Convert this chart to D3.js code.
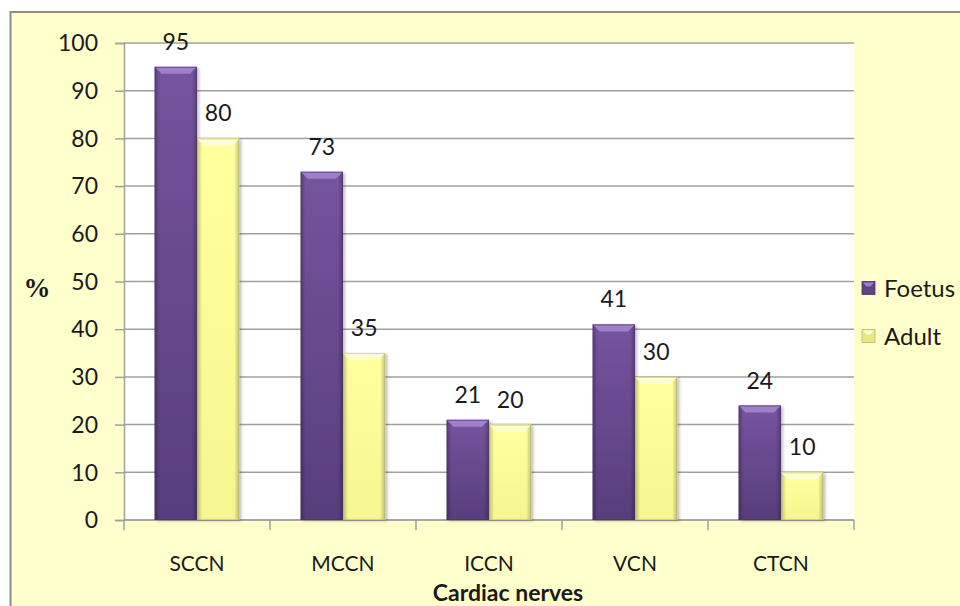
<!DOCTYPE html>
<html>
<head>
<meta charset="utf-8">
<script src="https://cdn.jsdelivr.net/npm/d3@7"></script>
<style>
  html, body { margin: 0; padding: 0; background: #ffffff; }
  svg { display: block; }
  text { font-family: Lato, "Open Sans", sans-serif; fill: #1a1a1a; }
</style>
</head>
<body>
<svg id="chart" width="960" height="606"></svg>
<script>
// Chart data
const categories = ["SCCN", "MCCN", "ICCN", "VCN", "CTCN"];
const seriesNames = ["Foetus", "Adult"];
const foetus = [95, 73, 21, 41, 24];
const adult = [80, 35, 20, 30, 10];
const yTicks = [0, 10, 20, 30, 40, 50, 60, 70, 80, 90, 100];
const xTitle = "Cardiac nerves";
const yTitle = "%";

const W = 960, H = 606;
const plot = { left: 124, right: 854, top: 43, bottom: 520 };

const svg = d3.select("#chart");
const defs = svg.append("defs");

// Gradients for bevelled bars
function vGrad(id, stops) {
  const g = defs.append("linearGradient").attr("id", id)
    .attr("x1", 0).attr("y1", 0).attr("x2", 0).attr("y2", 1);
  stops.forEach(s => g.append("stop").attr("offset", s[0]).attr("stop-color", s[1]));
}
function hGrad(id, stops) {
  const g = defs.append("linearGradient").attr("id", id)
    .attr("x1", 0).attr("y1", 0).attr("x2", 1).attr("y2", 0);
  stops.forEach(s => g.append("stop").attr("offset", s[0]).attr("stop-color", s[1]).attr("stop-opacity", s[2] == null ? 1 : s[2]));
}
vGrad("purpleBody", [[0, "#77539f"], [1, "#573e7c"]]);
vGrad("yellowBody", [[0, "#ffff9e"], [1, "#f6f690"]]);
hGrad("edgeShade", [[0, "#000", 0.25], [0.12, "#000", 0], [0.88, "#000", 0], [1, "#000", 0.25]]);
defs.append("filter").attr("id", "shadow").attr("x", "-20%").attr("y", "-10%").attr("width", "150%").attr("height", "120%")
  .append("feDropShadow").attr("dx", 2).attr("dy", 1).attr("stdDeviation", 1.5)
  .attr("flood-color", "#000").attr("flood-opacity", 0.25);

const colors = {
  Foetus: { body: "url(#purpleBody)", top: "#9e7fcb", edge: "#4a3468", swatch: "#5e4388" },
  Adult: { body: "url(#yellowBody)", top: "#ffffd4", edge: "#b9b96a", swatch: "#e8e880" }
};

// Chart area background and frame
svg.append("rect").attr("x", 10.5).attr("y", 12).attr("width", W).attr("height", H)
  .attr("fill", "#ffffcc").attr("stroke", "#8c8c8c").attr("stroke-width", 2);

// Plot area
svg.append("rect").attr("x", plot.left).attr("y", plot.top)
  .attr("width", plot.right - plot.left).attr("height", plot.bottom - plot.top)
  .attr("fill", "#ffffff");

const x0 = d3.scaleBand().domain(categories).range([plot.left, plot.right]).paddingInner(0).paddingOuter(0);
const groupPad = 0.21;
const x1 = d3.scaleBand().domain(seriesNames)
  .range([x0.bandwidth() * groupPad, x0.bandwidth() * (1 - groupPad)]);
const y = d3.scaleLinear().domain([0, 100]).range([plot.bottom, plot.top]);

// Gridlines with left tick marks
const yAxis = d3.axisLeft(y).tickValues(yTicks).tickSize(9).tickFormat("");
const yg = svg.append("g").attr("transform", `translate(${plot.left},0)`).call(yAxis);
yg.select(".domain").attr("stroke", "#a0a0a0").attr("stroke-width", 1.5);
yg.selectAll(".tick line").attr("stroke", "#a0a0a0").attr("stroke-width", 1.5);

svg.append("g").selectAll("line").data(yTicks).join("line")
  .attr("x1", plot.left).attr("x2", plot.right)
  .attr("y1", d => y(d)).attr("y2", d => y(d))
  .attr("stroke", "#a0a0a0").attr("stroke-width", 1.5);

// Y tick labels
svg.append("g").selectAll("text").data(yTicks).join("text")
  .attr("x", 98).attr("y", d => y(d)).attr("dy", "0.36em")
  .attr("text-anchor", "end").attr("font-size", 23).text(d => d);

// X axis with boundary ticks
const bounds = categories.map(c => x0(c)).concat([plot.right]);
svg.append("line").attr("x1", plot.left).attr("x2", plot.right)
  .attr("y1", plot.bottom).attr("y2", plot.bottom)
  .attr("stroke", "#a0a0a0").attr("stroke-width", 1.5);
svg.append("g").selectAll("line").data(bounds).join("line")
  .attr("x1", d => d).attr("x2", d => d)
  .attr("y1", plot.bottom).attr("y2", plot.bottom + 10)
  .attr("stroke", "#a0a0a0").attr("stroke-width", 1.5);

svg.append("g").selectAll("text").data(categories).join("text")
  .attr("x", d => x0(d) + x0.bandwidth() / 2).attr("y", 571)
  .attr("text-anchor", "middle").attr("font-size", 21).text(d => d);

// Bars
const rows = categories.map((c, i) => ({ cat: c, values: [
  { s: "Foetus", v: foetus[i] }, { s: "Adult", v: adult[i] }
]}));

const groups = svg.append("g").selectAll("g").data(rows).join("g")
  .attr("transform", d => `translate(${x0(d.cat)},0)`);

const bars = groups.selectAll("g.bar").data(d => d.values).join("g").attr("class", "bar");

bars.each(function(d) {
  const g = d3.select(this);
  const bx = x1(d.s), bw = x1.bandwidth();
  const top = y(d.v), h = y(0) - top;
  const c = colors[d.s];
  const b = Math.min(7, h / 2);
  g.append("rect").attr("x", bx).attr("y", top).attr("width", bw).attr("height", h)
    .attr("fill", c.body).attr("filter", "url(#shadow)");
  g.append("rect").attr("x", bx).attr("y", top).attr("width", bw).attr("height", h)
    .attr("fill", "url(#edgeShade)");
  g.append("polygon")
    .attr("points", `${bx},${top} ${bx + bw},${top} ${bx + bw - b},${top + b} ${bx + b},${top + b}`)
    .attr("fill", c.top);
  g.append("rect").attr("x", bx + 0.5).attr("y", top + 0.5).attr("width", bw - 1).attr("height", h - 1)
    .attr("fill", "none").attr("stroke", c.edge).attr("stroke-width", 1).attr("stroke-opacity", 0.6);
  g.append("text").attr("x", bx + bw / 2).attr("y", top - 17)
    .attr("text-anchor", "middle").attr("font-size", 23).text(d.v);
});

// Axis titles
svg.append("text").attr("x", 508).attr("y", 601).attr("text-anchor", "middle")
  .attr("font-size", 23).attr("font-weight", "bold").text(xTitle);
svg.append("text").attr("x", 37).attr("y", 297).attr("text-anchor", "middle")
  .style("font-family", "'Liberation Serif', 'DejaVu Serif', serif")
  .attr("font-size", 27).attr("font-weight", "bold").text(yTitle);

// Legend
const legend = svg.append("g").selectAll("g").data(seriesNames).join("g")
  .attr("transform", (d, i) => `translate(862,${288 + i * 48})`);
legend.append("rect").attr("x", 0).attr("y", -6.5).attr("width", 13).attr("height", 13)
  .attr("fill", d => colors[d].swatch).attr("stroke", d => colors[d].edge).attr("stroke-width", 0.8);
legend.append("polygon").attr("points", "1,-5.5 12,-5.5 8.5,-1.5 4.5,-1.5")
  .attr("fill", d => colors[d].top);
legend.append("text").attr("x", 22).attr("y", 0).attr("dy", "0.36em")
  .attr("font-size", 24).text(d => d);
</script>
</body>
</html>
